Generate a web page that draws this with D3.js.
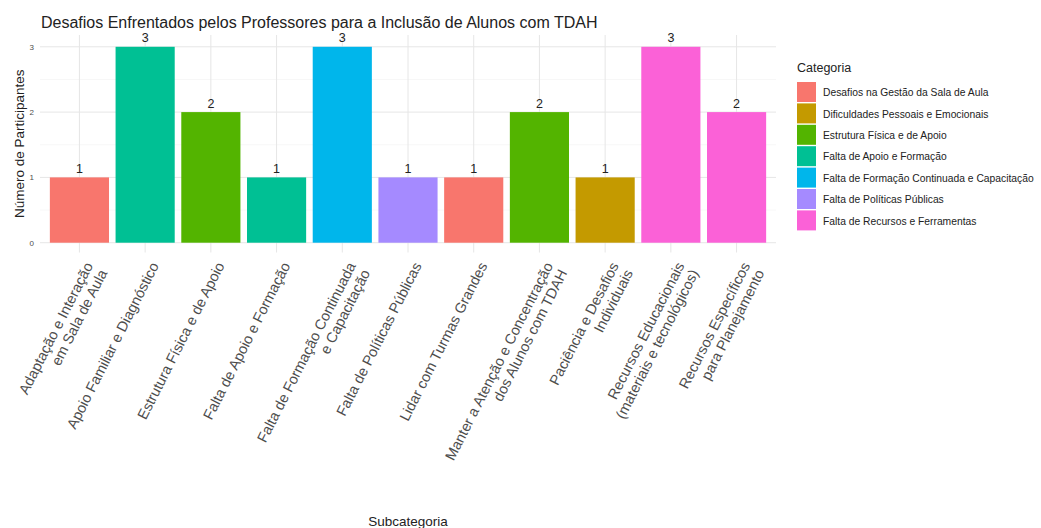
<!DOCTYPE html>
<html><head><meta charset="utf-8">
<script src="https://cdn.jsdelivr.net/npm/d3@7"></script>
<style>body{margin:0;background:#fff;font-family:"Liberation Sans",Arial,sans-serif;}</style>
</head><body>
<svg id="c" width="1041" height="528"></svg>
<script>
const subcategories = [
  "Adaptação e Interação\nem Sala de Aula",
  "Apoio Familiar e Diagnóstico",
  "Estrutura Física e de Apoio",
  "Falta de Apoio e Formação",
  "Falta de Formação Continuada\ne Capacitação",
  "Falta de Políticas Públicas",
  "Lidar com Turmas Grandes",
  "Manter a Atenção e Concentração\ndos Alunos com TDAH",
  "Paciência e Desafios\nIndividuais",
  "Recursos Educacionais\n(materiais e tecnológicos)",
  "Recursos Específicos\npara Planejamento"
];
const counts = [1, 3, 2, 1, 3, 1, 1, 2, 1, 3, 2];
const barCategory = [
  "Desafios na Gestão da Sala de Aula",
  "Falta de Apoio e Formação",
  "Estrutura Física e de Apoio",
  "Falta de Apoio e Formação",
  "Falta de Formação Continuada e Capacitação",
  "Falta de Políticas Públicas",
  "Desafios na Gestão da Sala de Aula",
  "Estrutura Física e de Apoio",
  "Dificuldades Pessoais e Emocionais",
  "Falta de Recursos e Ferramentas",
  "Falta de Recursos e Ferramentas"
];
const categories = [
  "Desafios na Gestão da Sala de Aula",
  "Dificuldades Pessoais e Emocionais",
  "Estrutura Física e de Apoio",
  "Falta de Apoio e Formação",
  "Falta de Formação Continuada e Capacitação",
  "Falta de Políticas Públicas",
  "Falta de Recursos e Ferramentas"
];
const palette = ["#F8766D", "#C49A00", "#53B400", "#00C094", "#00B6EB", "#A58AFF", "#FB61D7"];
const yTicks = [0, 1, 2, 3];
const yMinor = [0.5, 1.5, 2.5];

const svg = d3.select("#c");
const L = 40, R = 776, T = 35, B = 252.5;

const x = d3.scaleBand().domain(subcategories).range([L, R]).paddingInner(0.1).paddingOuter(0.15);
const y = d3.scaleLinear().domain([-0.15, 3.15]).range([B, T + 2]);
const color = d3.scaleOrdinal().domain(categories).range(palette);

const data = subcategories.map((s, i) => ({s, v: counts[i], c: barCategory[i]}));

// grid
const g = svg.append("g");
g.selectAll(".minor").data(yMinor).join("line")
  .attr("x1", L).attr("x2", R).attr("y1", d => y(d)).attr("y2", d => y(d))
  .attr("stroke", "#f2f2f2").attr("stroke-width", 0.6);
g.selectAll(".major").data(yTicks).join("line")
  .attr("x1", L).attr("x2", R).attr("y1", d => y(d)).attr("y2", d => y(d))
  .attr("stroke", "#e6e6e6").attr("stroke-width", 1);
g.selectAll(".vmajor").data(subcategories).join("line")
  .attr("x1", d => x(d) + x.bandwidth() / 2).attr("x2", d => x(d) + x.bandwidth() / 2)
  .attr("y1", T).attr("y2", B)
  .attr("stroke", "#e6e6e6").attr("stroke-width", 1);

// bars
svg.append("g").selectAll("rect").data(data).join("rect")
  .attr("x", d => x(d.s)).attr("width", x.bandwidth())
  .attr("y", d => y(d.v)).attr("height", d => y(0) - y(d.v))
  .attr("fill", d => color(d.c));

// value labels
svg.append("g").selectAll("text").data(data).join("text")
  .attr("x", d => x(d.s) + x.bandwidth() / 2).attr("y", d => y(d.v) - 4.5)
  .attr("text-anchor", "middle").attr("font-size", 12.5).attr("fill", "#222")
  .text(d => d.v);

// y axis
const yAxis = svg.append("g").attr("transform", `translate(${L - 6},0)`)
  .call(d3.axisLeft(y).tickValues(yTicks).tickSize(0).tickPadding(0).tickFormat(d3.format("d")));
yAxis.select(".domain").remove();
yAxis.selectAll("text").attr("font-size", 8).attr("fill", "#4d4d4d").attr("font-family", "Liberation Sans, Arial, sans-serif");

svg.append("text").attr("transform", `translate(24,${(T + B) / 2}) rotate(-90)`)
  .attr("text-anchor", "middle").attr("font-size", 13.5).attr("fill", "#222")
  .text("Número de Participantes");

// x axis labels
const xl = svg.append("g").selectAll("g").data(subcategories).join("g")
  .attr("transform", d => `translate(${x(d) + x.bandwidth() / 2 + 14},${B + 13}) rotate(-63)`);
xl.each(function(d) {
  const lines = d.split("\n");
  const t = d3.select(this).append("text").attr("text-anchor", "end")
    .attr("font-size", 14.5).attr("fill", "#4d4d4d");
  lines.forEach((ln, i) => t.append("tspan").attr("x", 0).attr("dy", i === 0 ? 0 : "1.1em").text(ln));
});

svg.append("text").attr("x", (L + R) / 2).attr("y", 526)
  .attr("text-anchor", "middle").attr("font-size", 13.5).attr("fill", "#222")
  .text("Subcategoria");

// title
svg.append("text").attr("x", 41).attr("y", 28).attr("font-size", 16).attr("fill", "#222")
  .text("Desafios Enfrentados pelos Professores para a Inclusão de Alunos com TDAH");

// legend
const lg = svg.append("g").attr("transform", "translate(797,0)");
lg.append("text").attr("x", 0).attr("y", 72).attr("font-size", 12.5).attr("fill", "#222").text("Categoria");
const rowH = 21.4;
const items = lg.selectAll("g").data(categories).join("g")
  .attr("transform", (d, i) => `translate(0,${82 + i * rowH})`);
items.append("rect").attr("x", 0).attr("y", 0).attr("width", 19).attr("height", rowH - 1.4)
  .attr("fill", d => color(d));
items.append("text").attr("x", 26).attr("y", rowH / 2 + 3.5).attr("font-size", 10.3).attr("fill", "#222").text(d => d);
</script>
</body></html>
